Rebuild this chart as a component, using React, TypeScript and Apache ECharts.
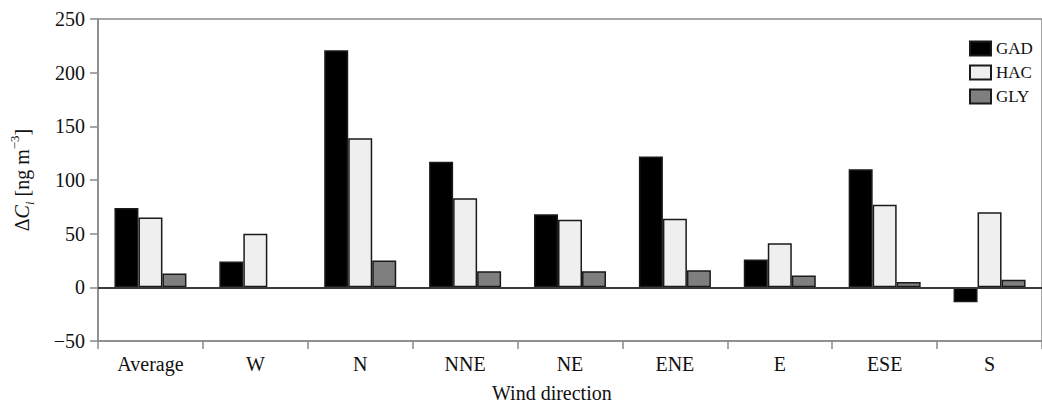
import React, { useEffect, useRef } from "react";
import * as echarts from "echarts";

const categories = ["Average", "W", "N", "NNE", "NE", "ENE", "E", "ESE", "S"];
const gad = [74, 24, 221, 117, 68, 122, 26, 110, -14];
const hac = [65, 50, 139, 83, 63, 64, 41, 77, 70];
const gly = [13, -1, 25, 15, 15, 16, 11, 5, 7];
const yTicks = { min: -50, max: 250, interval: 50 };

const FONT = "Liberation Serif";

export default function App() {
  const ref = useRef<HTMLDivElement>(null);
  useEffect(() => {
    if (!ref.current) return;
    const chart = echarts.init(ref.current, null, { renderer: "svg" });
    const barBorder = { borderColor: "#1a1a1a", borderWidth: 1.5 };
    chart.setOption({
      animation: false,
      backgroundColor: "#ffffff",
      textStyle: { fontFamily: FONT },
      grid: {
        left: 96,
        top: 19,
        bottom: 63,
        right: -12.5,
        show: true,
        borderColor: "#8a8a8a",
        borderWidth: 1.5,
        backgroundColor: "transparent",
      },
      legend: {
        orient: "vertical",
        left: 964,
        top: 35,
        icon: "rect",
        itemWidth: 21,
        itemHeight: 14,
        itemGap: 7,
        textStyle: { fontFamily: FONT, fontSize: 17, color: "#111" },
        data: ["GAD", "HAC", "GLY"],
      },
      xAxis: {
        type: "category",
        data: categories,
        axisLine: { onZero: false, lineStyle: { color: "#8a8a8a", width: 1.5 } },
        axisTick: { show: true, length: 8, inside: false, lineStyle: { color: "#8a8a8a", width: 1.5 } },
        axisLabel: { fontFamily: FONT, fontSize: 20, color: "#111", margin: 13 },
        splitLine: { show: false },
      },
      yAxis: {
        type: "value",
        min: yTicks.min,
        max: yTicks.max,
        interval: yTicks.interval,
        axisLine: { show: true, lineStyle: { color: "#8a8a8a", width: 1.5 } },
        axisTick: { show: true, length: 8, lineStyle: { color: "#8a8a8a", width: 1.5 } },
        axisLabel: {
          fontFamily: FONT,
          fontSize: 20,
          color: "#111",
          margin: 13,
          formatter: (v: number) => (v < 0 ? "\u2212" + Math.abs(v) : String(v)),
        },
        splitLine: { show: false },
        name: "{n|\u0394}{i|C}{sub|i}{n| [ng m}{sup|\u22123}{n|]}",
        nameLocation: "middle",
        nameGap: 62,
        nameRotate: 90,
        nameTextStyle: {
          fontFamily: FONT,
          fontSize: 20,
          color: "#111",
          rich: {
            n: { fontFamily: FONT, fontSize: 20, color: "#111", lineHeight: 28, verticalAlign: "middle" },
            i: { fontFamily: FONT, fontSize: 20, fontStyle: "italic", color: "#111", lineHeight: 28, verticalAlign: "middle" },
            sub: { fontFamily: FONT, fontSize: 13, fontStyle: "italic", color: "#111", lineHeight: 28, verticalAlign: "bottom" },
            sup: { fontFamily: FONT, fontSize: 13, color: "#111", lineHeight: 28, verticalAlign: "top" },
          },
        },
      },
      series: [
        {
          name: "GAD",
          type: "bar",
          data: gad,
          barWidth: 24,
          barGap: "0%",
          itemStyle: { color: "#000000", ...barBorder },
          markLine: {
            silent: true,
            symbol: "none",
            label: { show: false },
            lineStyle: { color: "#3a3a3a", width: 1.8, type: "solid" },
            data: [{ yAxis: 0 }],
          },
        },
        {
          name: "HAC",
          type: "bar",
          data: hac,
          barWidth: 24,
          barGap: "0%",
          itemStyle: { color: "#efefef", ...barBorder },
        },
        {
          name: "GLY",
          type: "bar",
          data: gly,
          barWidth: 24,
          barGap: "0%",
          itemStyle: { color: "#7f7f7f", ...barBorder },
        },
      ],
      graphic: [
        {
          type: "text",
          left: 492,
          top: 383,
          style: { text: "Wind direction", fontFamily: FONT, fontSize: 20, fill: "#111" },
        },
      ],
    });
    return () => chart.dispose();
  }, []);
  return (
    <div style={{ position: "fixed", left: 0, top: 0, width: 1042, height: 404, overflow: "hidden", background: "#fff" }}>
      <div ref={ref} style={{ width: 1042, height: 404 }} />
    </div>
  );
}
